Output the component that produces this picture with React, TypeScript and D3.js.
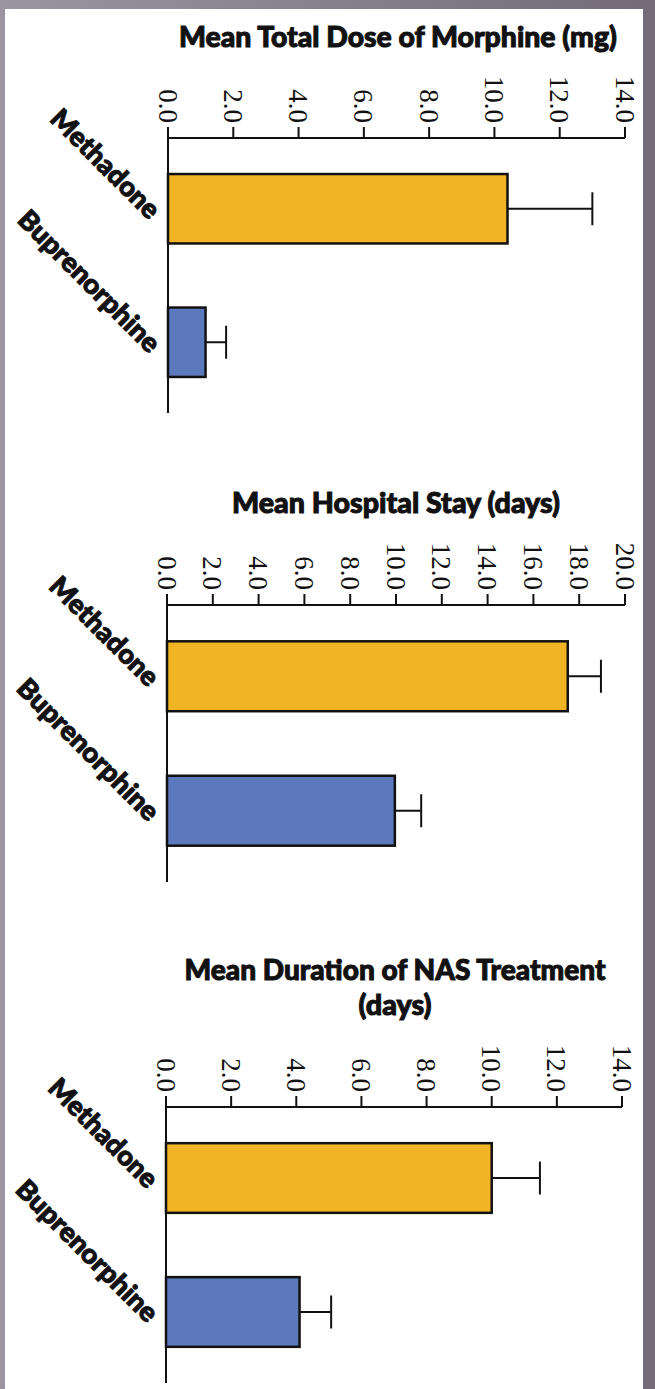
import React from "react";
import * as d3 from "d3";

const categories = ["Methadone", "Buprenorphine"];

const morphineMeans = [10.4, 1.15];
const morphineErrors = [2.6, 0.63];
const morphineTicks = [0, 2, 4, 6, 8, 10, 12, 14];

const stayMeans = [17.5, 9.95];
const stayErrors = [1.45, 1.15];
const stayTicks = [0, 2, 4, 6, 8, 10, 12, 14, 16, 18, 20];

const nasMeans = [10.0, 4.1];
const nasErrors = [1.48, 0.97];
const nasTicks = [0, 2, 4, 6, 8, 10, 12, 14];

const morphineTitle = ["Mean Total Dose of Morphine (mg)"];
const stayTitle = ["Mean Hospital Stay (days)"];
const nasTitle = ["Mean Duration of NAS Treatment", "(days)"];

const barColors = ["#F1B424", "#5C79BE"];

const W = 655;
const H = 1389;

type PanelSpec = {
  title: string[];
  titleCx: number;
  titleY: number[];
  titleLen: number[];
  means: number[];
  errors: number[];
  ticks: number[];
  axisY: number;
  bottomY: number;
  x0: number;
  x1: number;
};

const panels: PanelSpec[] = [
  {
    title: morphineTitle,
    titleCx: 398,
    titleY: [47],
    titleLen: [438],
    means: morphineMeans,
    errors: morphineErrors,
    ticks: morphineTicks,
    axisY: 138,
    bottomY: 413,
    x0: 168,
    x1: 625,
  },
  {
    title: stayTitle,
    titleCx: 396,
    titleY: [513],
    titleLen: [328],
    means: stayMeans,
    errors: stayErrors,
    ticks: stayTicks,
    axisY: 605,
    bottomY: 882,
    x0: 167,
    x1: 625,
  },
  {
    title: nasTitle,
    titleCx: 395,
    titleY: [980, 1015],
    titleLen: [421, 73],
    means: nasMeans,
    errors: nasErrors,
    ticks: nasTicks,
    axisY: 1107,
    bottomY: 1383,
    x0: 166,
    x1: 622,
  },
];

const fmt = d3.format(".1f");
const sansFont = "Lato, 'Open Sans', 'DejaVu Sans', sans-serif";
const serifFont = "'Liberation Serif', 'DejaVu Serif', serif";

function Panel({ p }: { p: PanelSpec }) {
  const maxV = p.ticks[p.ticks.length - 1];
  const x = d3.scaleLinear().domain([0, maxV]).range([p.x0, p.x1]);
  const y = d3
    .scaleBand<string>()
    .domain(categories)
    .range([p.axisY, p.bottomY])
    .paddingInner(0.48)
    .paddingOuter(0.27);
  const bw = y.bandwidth();
  const capHalf = 16.5;
  return (
    <g>
      {p.title.map((t, i) => (
        <text
          key={t}
          x={p.titleCx}
          y={p.titleY[i]}
          textAnchor="middle"
          fontFamily={sansFont}
          fontWeight={900}
          fontSize={28}
          textLength={p.titleLen[i]}
          lengthAdjust="spacingAndGlyphs"
          fill="#111"
          stroke="#111"
          strokeWidth={1}
        >
          {t}
        </text>
      ))}
      {/* value axis */}
      <line
        x1={x(0)}
        x2={x(maxV)}
        y1={p.axisY}
        y2={p.axisY}
        stroke="#111"
        strokeWidth={2}
      />
      {p.ticks.map((t) => (
        <g key={t}>
          <line
            x1={x(t)}
            x2={x(t)}
            y1={p.axisY}
            y2={p.axisY - 11}
            stroke="#111"
            strokeWidth={2}
          />
          <text
            transform={`translate(${x(t)},${p.axisY - 15}) rotate(90)`}
            textAnchor="end"
            dy="0.35em"
            fontFamily={serifFont}
            fontSize={27}
            fill="#111"
          >
            {fmt(t)}
          </text>
        </g>
      ))}
      {/* category axis */}
      <line
        x1={x(0)}
        x2={x(0)}
        y1={p.axisY}
        y2={p.bottomY}
        stroke="#111"
        strokeWidth={2}
      />
      {categories.map((c, i) => {
        const top = y(c) as number;
        const cy = top + bw / 2;
        const v = p.means[i];
        const e = v + p.errors[i];
        return (
          <g key={c}>
            <line
              x1={x(v)}
              x2={x(e)}
              y1={cy}
              y2={cy}
              stroke="#111"
              strokeWidth={2}
            />
            <line
              x1={x(e)}
              x2={x(e)}
              y1={cy - capHalf}
              y2={cy + capHalf}
              stroke="#111"
              strokeWidth={2}
            />
            <rect
              x={x(0)}
              y={top}
              width={x(v) - x(0)}
              height={bw}
              fill={barColors[i]}
              stroke="#111"
              strokeWidth={2.5}
            />
            <text
              transform={`translate(${x(0) - 19},${cy + 12}) rotate(45)`}
              textAnchor="end"
              fontFamily={sansFont}
              fontWeight={900}
              fontSize={27}
              textLength={i === 0 ? 142 : 188}
              lengthAdjust="spacingAndGlyphs"
              fill="#111"
              stroke="#111"
              strokeWidth={1}
            >
              {c}
            </text>
          </g>
        );
      })}
    </g>
  );
}

export default function App() {
  return (
    <div style={{ position: "absolute", left: 0, top: 0 }}>
      <svg width={W} height={H} style={{ display: "block" }}>
        <defs>
          <linearGradient id="frame" x1="0" x2="1" y1="0" y2="0">
            <stop offset="0" stopColor="#9b95a1" />
            <stop offset="1" stopColor="#736b7a" />
          </linearGradient>
        </defs>
        <rect x={0} y={0} width={W} height={H} fill="url(#frame)" />
        <rect x={5} y={9} width={638} height={H - 9} fill="#ffffff" />
        {panels.map((p, i) => (
          <Panel key={i} p={p} />
        ))}
      </svg>
    </div>
  );
}
